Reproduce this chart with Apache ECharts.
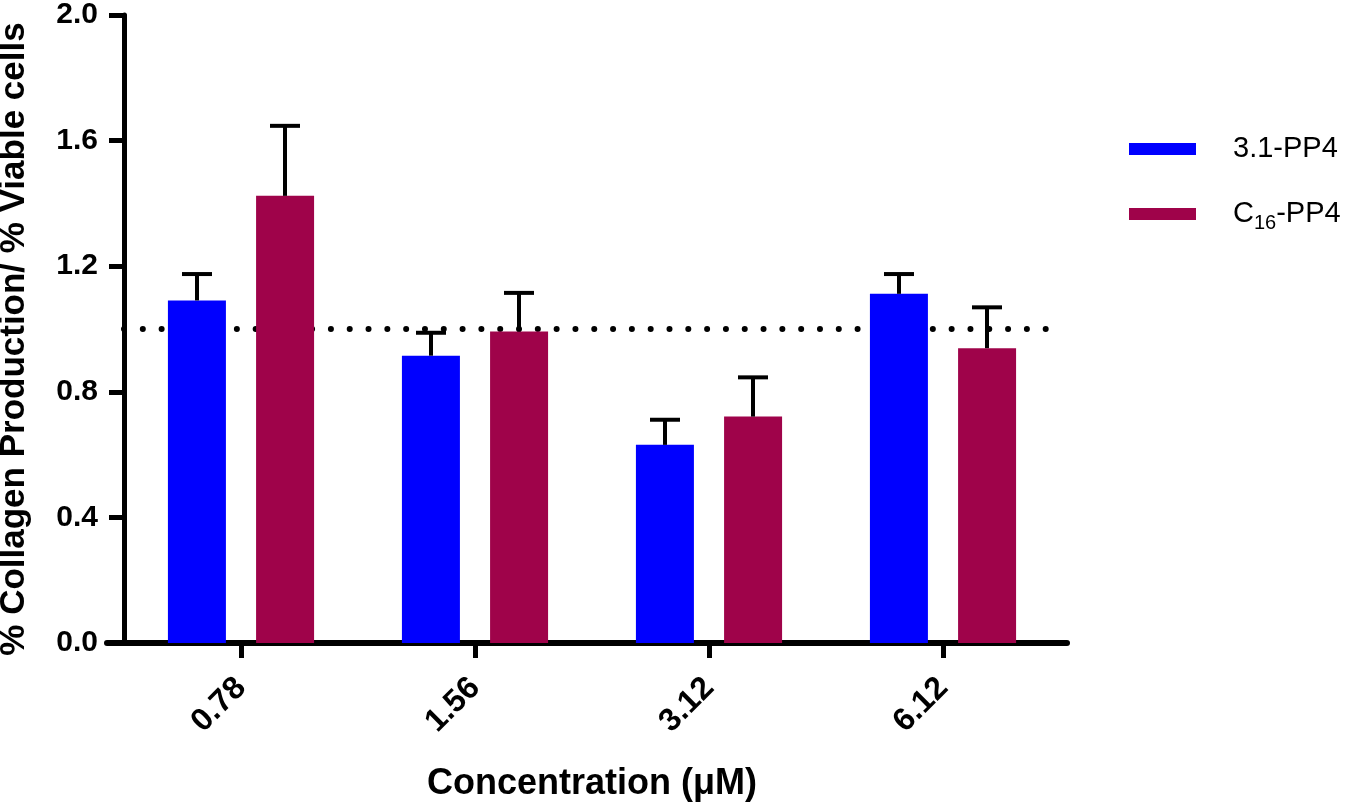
<!DOCTYPE html>
<html>
<head>
<meta charset="utf-8">
<script src="https://cdn.jsdelivr.net/npm/echarts@6/dist/echarts.min.js"></script>
<style>html,body{margin:0;padding:0;background:#fff;}#chart{width:1350px;height:806px;}</style>
</head>
<body>
<div id="chart"></div>
<script>
// ---- data ----
const categories = ['0.78', '1.56', '3.12', '6.12'];
const seriesNames = ['3.1-PP4', 'C16-PP4'];
const blueValues = [1.091, 0.915, 0.631, 1.112];
const blueErrors = [0.084, 0.073, 0.080, 0.063];
const redValues = [1.424, 0.992, 0.721, 0.939];
const redErrors = [0.223, 0.123, 0.125, 0.130];
const referenceLine = 1.0;
const yTicks = { min: 0, max: 2.0, interval: 0.4 };

const FONT = "'Liberation Sans', Arial, Helvetica, sans-serif";
const BLUE = '#0000FF';
const RED = '#9F034A';
const BAR_W = 58;
const HALF_OFFSET = 44; // distance of each bar centre from category centre

function errorSeries(values, errors, dir) {
  return {
    type: 'custom',
    xAxisIndex: 1, yAxisIndex: 1,
    z: 5,
    silent: true,
    data: values.map((v, i) => [i, v, errors[i]]),
    renderItem: function (params, api) {
      const top = api.coord([api.value(0), api.value(1) + api.value(2)]);
      const base = api.coord([api.value(0), api.value(1)]);
      const x = top[0] + dir * HALF_OFFSET;
      const style = { stroke: '#000', lineWidth: 4 };
      return {
        type: 'group',
        children: [
          { type: 'line', shape: { x1: x, y1: base[1], x2: x, y2: top[1] }, style: style },
          { type: 'line', shape: { x1: x - 15, y1: top[1], x2: x + 15, y2: top[1] }, style: style }
        ]
      };
    }
  };
}

const chart = echarts.init(document.getElementById('chart'));
chart.setOption({
  backgroundColor: '#fff',
  animation: false,
  textStyle: { fontFamily: FONT },
  legend: [
    {
      data: [seriesNames[0]], orient: 'vertical', left: 1129, top: 134, padding: 0,
      itemWidth: 67, itemHeight: 12, icon: 'rect',
      textStyle: { fontFamily: FONT, fontSize: 29, color: '#000', lineHeight: 30, padding: [0, 0, 0, 32] }
    },
    {
      data: [seriesNames[1]], orient: 'vertical', left: 1129, top: 195, padding: 0,
      itemWidth: 67, itemHeight: 12, icon: 'rect',
      formatter: function () { return '{n|C}{s|16}{n|-PP4}'; },
      textStyle: {
        fontFamily: FONT, fontSize: 29, color: '#000', lineHeight: 30, padding: [0, 0, 0, 32],
        rich: {
          n: { fontFamily: FONT, fontSize: 29, color: '#000', lineHeight: 30 },
          s: { fontFamily: FONT, fontSize: 20, color: '#000', lineHeight: 30, padding: [18, 0, 0, 0] }
        }
      }
    }
  ],
  grid: [
    { left: 107, right: 283, top: 15, bottom: 163, containLabel: false, outerBoundsMode: 'none' },
    { left: 124, right: 290, top: 15, bottom: 163, containLabel: false, outerBoundsMode: 'none' }
  ],
  xAxis: [
    {
      gridIndex: 0, type: 'value', min: 0, max: 1,
      axisLine: { show: true, lineStyle: { color: '#000', width: 6 } },
      axisTick: { show: false }, axisLabel: { show: false }, splitLine: { show: false }
    },
    {
      gridIndex: 1, type: 'category', data: categories,
      axisLine: { show: false },
      axisTick: { show: true, alignWithLabel: true, length: 15, lineStyle: { color: '#000', width: 5 } },
      axisLabel: { interval: 0, rotate: 45, margin: 40, fontFamily: FONT, fontSize: 32, fontWeight: 'bold', color: '#000' },
      splitLine: { show: false },
      name: 'Concentration (\u03bcM)', nameLocation: 'middle', nameGap: 123,
      nameTextStyle: { fontFamily: FONT, fontSize: 36, fontWeight: 'bold', color: '#000' }
    }
  ],
  yAxis: [
    { gridIndex: 0, type: 'value', show: false, min: 0, max: 1 },
    {
      gridIndex: 1, type: 'value', min: yTicks.min, max: yTicks.max, interval: yTicks.interval,
      axisLine: { show: true, lineStyle: { color: '#000', width: 5 } },
      axisTick: { show: true, length: 15, lineStyle: { color: '#000', width: 5 } },
      axisLabel: { margin: 26, fontFamily: FONT, fontSize: 30, fontWeight: 'bold', color: '#000',
        formatter: v => v.toFixed(1) },
      splitLine: { show: false },
      name: '% Collagen Production/ % Viable cells', nameLocation: 'middle', nameGap: 92,
      nameTextStyle: { fontFamily: FONT, fontSize: 35, fontWeight: 'bold', color: '#000', padding: [0, 20, 0, 0] }
    }
  ],
  series: [
    {
      type: 'line', xAxisIndex: 1, yAxisIndex: 1, data: [], z: 1, silent: true,
      markLine: {
        z: 1, silent: true, symbol: 'none', label: { show: false },
        lineStyle: { color: '#000', width: 6, type: [0.01, 18.8], cap: 'round' },
        data: [{ yAxis: referenceLine }]
      }
    },
    {
      name: seriesNames[0], type: 'bar', xAxisIndex: 1, yAxisIndex: 1, z: 2,
      barWidth: BAR_W, barGap: '52%', itemStyle: { color: BLUE }, data: blueValues
    },
    {
      name: seriesNames[1], type: 'bar', xAxisIndex: 1, yAxisIndex: 1, z: 2,
      barWidth: BAR_W, barGap: '52%', itemStyle: { color: RED }, data: redValues
    },
    errorSeries(blueValues, blueErrors, -1),
    errorSeries(redValues, redErrors, 1)
  ]
});
</script>
</body>
</html>
